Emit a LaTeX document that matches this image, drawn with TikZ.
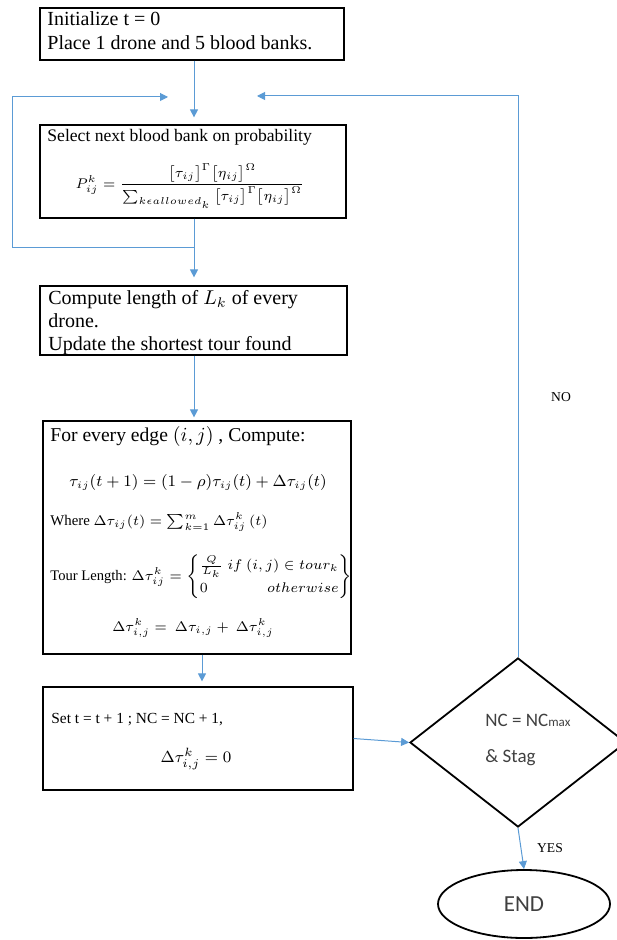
\documentclass[tikz,border=0pt]{standalone}
\usepackage{amsmath}
\usepackage{fontspec}
\setmainfont{Liberation Serif}
\newfontfamily\calibri{Carlito}
\usetikzlibrary{shapes.geometric, arrows.meta, positioning, calc}
\definecolor{flowblue}{RGB}{91,155,213}
\definecolor{darktext}{RGB}{64,64,64}
\tikzset{
  box/.style={rectangle, draw=black, line width=0.6pt, inner sep=0pt},
  decision/.style={diamond, draw=black, line width=0.9pt, inner sep=0pt,
                   minimum width=108pt, minimum height=84.5pt},
  term/.style={ellipse, draw=black, line width=0.9pt, inner sep=0pt,
               minimum width=86pt, minimum height=34pt,
               font=\calibri\fontsize{11.5}{13}\selectfont, text=darktext},
  arr/.style={-{Triangle[length=4pt,width=4pt]}, draw=flowblue, line width=0.5pt},
  txt/.style={anchor=west, inner sep=0pt, align=left},
  eqn/.style={inner sep=0pt},
  lbl/.style={font=\fontsize{6.8}{8}\selectfont, inner sep=0pt},
  dtxt/.style={anchor=west, inner sep=0pt, font=\calibri\fontsize{9.5}{11}\selectfont, text=darktext},
}
\begin{document}
\begin{tikzpicture}[x=0.5pt, y=-0.5pt]
\useasboundingbox (0,0) rectangle (616,940);
% Kasten des Ablaufs
\node[box, minimum width=152pt, minimum height=26pt] (init) at (192,34) {};
\node[box, minimum width=153pt, minimum height=46.5pt] (select) at (193,171.5) {};
\node[box, minimum width=153.5pt, minimum height=34.5pt] (length) at (193.5,320.5) {};
\node[box, minimum width=154pt, minimum height=116.5pt] (edge) at (197,537.5) {};
\node[box, minimum width=155pt, minimum height=51.5pt] (setb) at (198,738.5) {};
\node[decision] (check) at (518,742.5) {};
\node[term] (endn) at (524,904) {END};

% Texte in den Kasten
\node[txt, anchor=north west, font=\fontsize{10}{12}\selectfont] (tinit) at (47,11)
  {Initialize t = 0\\Place 1 drone and 5 blood banks.};
\node[txt, font=\fontsize{8.8}{10}\selectfont] (tsel) at (47,137) {Select next blood bank on probability};
\node[eqn, font=\fontsize{6.8}{8}\selectfont] (fsel) at (190,186)
  {$P_{ij}^{k} = \dfrac{\big[\tau_{ij}\big]^{\Gamma}\big[\eta_{ij}\big]^{\Omega}}{\sum_{k\epsilon allowed_k}\big[\tau_{ij}\big]^{\Gamma}\big[\eta_{ij}\big]^{\Omega}}$};
\node[txt, anchor=north west, font=\fontsize{10}{11.5}\selectfont] (tlen) at (48,290)
  {Compute length of $L_k$ of every\\drone.\\Update the shortest tour found};
\node[txt, font=\fontsize{9.8}{12}\selectfont] (tedge) at (50,436) {For every edge $(i,j)$ , Compute:};
\node[eqn, font=\fontsize{7.8}{10}\selectfont] (fupd) at (198,482)
  {$\tau_{ij}(t+1) = (1-\rho)\tau_{ij}(t) + \Delta\tau_{ij}(t)$};
\node[txt, font=\fontsize{7.4}{9}\selectfont] (fwhere) at (50,522)
  {Where $\Delta\tau_{ij}(t) = \sum_{k=1}^{m}\Delta\tau_{ij}^{k}\,(t)$};
\node[txt, font=\fontsize{7.3}{9}\selectfont] (ftour) at (50,577)
  {Tour Length: $\Delta\tau_{ij}^{k} = \left\{\begin{array}{@{}l@{\;}r@{}}\frac{Q}{L_k} & if\ (i,j)\in tour_k\\[2.5pt] 0 & otherwise\end{array}\right\}$};
\node[eqn, font=\fontsize{6.8}{8}\selectfont] (fsum) at (193,628)
  {$\Delta\tau_{i,j}^{k} = \ \Delta\tau_{i,j} + \ \Delta\tau_{i,j}^{k}$};
\node[txt, font=\fontsize{7.7}{9}\selectfont] (tset) at (51,720) {Set t = t + 1 ; NC = NC + 1,};
\node[eqn, font=\fontsize{8}{10}\selectfont] (fzero) at (196,759) {$\Delta\tau_{i,j}^{k} = 0$};
\node[dtxt] (tnc) at (485,720) {NC = NC{\fontsize{6.5}{7}\selectfont max}};
\node[dtxt] (tstag) at (485,758) {\& Stag};

% Pfeile
\coordinate (spine) at (194,0);
\coordinate (loopL) at (12,248);
\coordinate (inL) at (168,97);
\coordinate (inR) at (257,96);
\draw[arr, shorten >=3.5pt] (init.south -| spine) -- (select.north -| spine);
\draw[arr, shorten >=4pt] (select.south -| spine) -- (length.north -| spine);
\draw[arr] (select.south -| spine) |- (loopL) |- (inL);
\draw[arr, shorten >=1.5pt] (length.south -| spine) -- (edge.north -| spine);
\draw[arr, shorten >=2.5pt] ([xshift=2.5pt]edge.south) -- ([xshift=2pt]setb.north);
\draw[arr] (setb.east) -- (check.west);
\draw[arr] (check.north) |- (inR);
\draw[arr] (check.south) -- (endn.north);
\node[lbl] (yes) at (550,848) {YES};
\node[lbl] (no) at (561,397) {NO};
\end{tikzpicture}
\end{document}
